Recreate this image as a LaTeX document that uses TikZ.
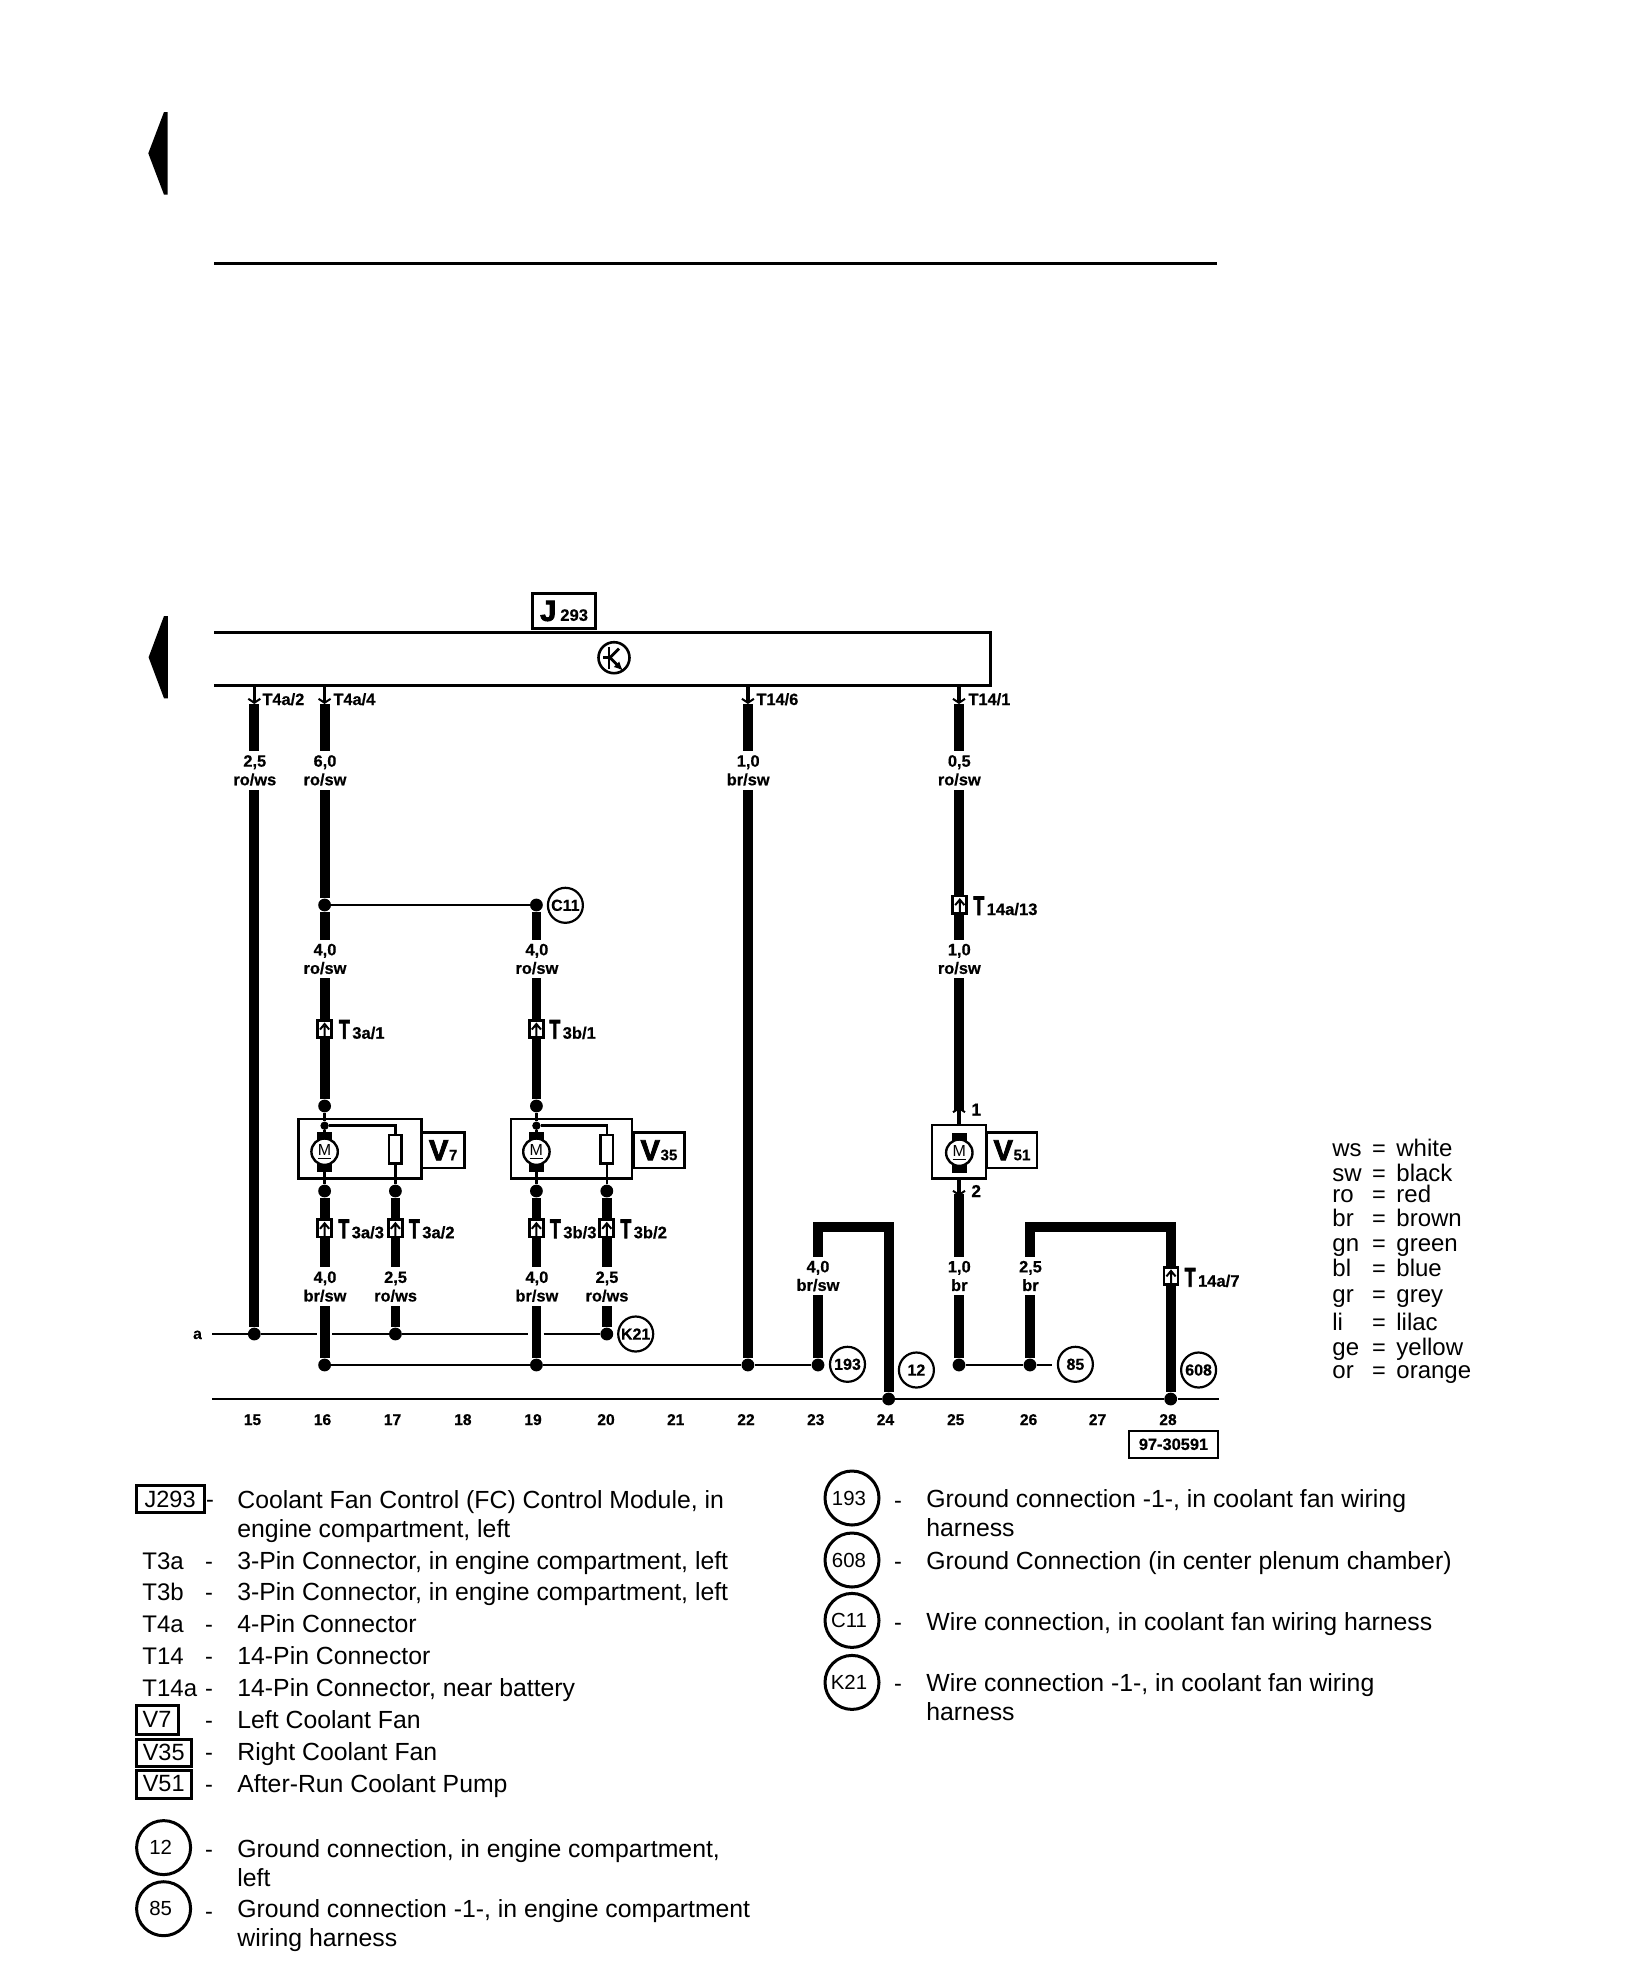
\documentclass[tikz,border=0pt]{standalone}
\usepackage{fontspec}
\usepackage{graphicx}
\setmainfont{Liberation Sans}[BoldFeatures={FakeBold=0.5}]
\newfontfamily\fatfont{Liberation Sans}[UprightFont=* Bold,FakeBold=3]
\usetikzlibrary{arrows.meta}
\newcommand{\bigT}[1]{{\fontsize{13.5}{13.5}\fatfont\mdseries\scalebox{0.66}[1]{T}}\kern1.2pt #1}
\newcommand{\bigV}[1]{{\fontsize{14.5}{14.5}\fatfont\mdseries V}{\fontsize{7.6}{7.6}\selectfont\kern0.3pt #1}}
\tikzset{
  wire/.style={line width=4.9pt},
  thinwire/.style={line width=1.3pt},
  pin/.style={line width=1.7pt,-{Straight Barb[length=2pt,width=6pt,line width=1pt]}},
  dot/.style={circle,fill,inner sep=0pt,minimum size=6.4pt},
  smalldot/.style={circle,fill,inner sep=0pt,minimum size=4.2pt},
  gauge/.style={fill=white,inner sep=0pt,minimum height=19.4pt,align=center,font=\bfseries\fontsize{8.2}{9.3}\selectfont},
  pinname/.style={anchor=base west,inner sep=0pt,font=\bfseries\fontsize{8.2}{9.3}\selectfont},
  plugname/.style={anchor=base west,inner sep=0pt,font=\bfseries\fontsize{8.3}{9.3}\selectfont},
  frame/.style={line width=1.3pt},
  compbox/.style={draw,line width=1.2pt,inner sep=0pt},
  namebox/.style={draw,fill=white,line width=1.3pt,inner sep=0pt,font=\bfseries},
  fuse/.style={draw,fill=white,line width=1.2pt,inner sep=0pt,minimum width=6.2pt,minimum height=14.2pt},
  ref/.style={circle,draw,fill=white,line width=1.1pt,inner sep=0pt,minimum size=17.5pt,font=\bfseries\fontsize{8}{9}\selectfont},
  colnum/.style={anchor=base,inner sep=0pt,font=\bfseries\fontsize{7.8}{9}\selectfont},
  legtext/.style={anchor=base west,inner sep=0pt,align=left,font=\fontsize{12}{14.4}\selectfont},
  legdesc/.style={anchor=base west,inner sep=0pt,align=left,font=\fontsize{12.4}{14.4}\selectfont},
  legdash/.style={anchor=base,inner sep=0pt,font=\fontsize{11.75}{14.4}\selectfont},
  legbox/.style={draw,line width=1.5pt,inner sep=0pt,font=\fontsize{11.75}{14.4}\selectfont},
  legcirc/.style={circle,draw,line width=1.5pt,inner sep=0pt,minimum size=27pt,font=\fontsize{10.2}{12}\selectfont,execute at end node=\hspace{3pt}},
  plug/.pic={
    \draw[line width=1.4pt,fill=white] (-7,-8.6) rectangle (7,8.6);
    \draw[line width=1pt] (-4.6,0.5) -- (0,-5) -- (4.6,0.5) (0,-3) -- (0,8.6);
  },
  motor/.pic={
    \fill (-7.3,-20) rectangle (7.3,-11);
    \fill (-7.3,11) rectangle (7.3,20.5);
    \node[circle,draw,fill=white,line width=1.2pt,inner sep=0pt,minimum size=13.2pt,font=\fontsize{8}{9}\selectfont] (-c) at (0,0) {\underline{M}};
  }
}
\begin{document}
\begin{tikzpicture}[x=0.5pt,y=-0.5pt]
\useasboundingbox (0,0) rectangle (1632,1986);
%pointers and rule:
\fill (167.7,112) -- (164,112) -- (148.3,153.3) -- (164,194.7) -- (167.7,194.7) -- cycle;
\fill (167.9,616) -- (164,616) -- (148.6,657.3) -- (164,698.3) -- (167.9,698.3) -- cycle;
\coordinate (rulea) at (214,263.3);
\coordinate (ruleb) at (1217,263.3);
\draw[line width=1.5pt] (rulea) -- (ruleb);
%control module:
\coordinate (moda) at (214,632.3);
\coordinate (modb) at (990.4,685.3);
\coordinate (modc) at (214,685.3);
\draw[frame] (moda) -| (modb) -- (modc);
\node[namebox,minimum width=31.6pt,minimum height=17.7pt] (J293) at (564.1,611) {{\fontsize{14.5}{14.5}\fatfont\mdseries J}\kern2pt{\fontsize{8.3}{9}\selectfont 293}};
\node[circle,draw,line width=1.3pt,inner sep=0pt,minimum size=15.5pt] (tsym) at (614,657.7) {};
\begin{scope}[shift={(tsym.center)},line width=1.4pt]
\draw (-11,0) -- (-5,0) (-5,-11) -- (-5,11);
\draw (-5,1) -- (5,-9);
\draw[-{Latex[length=4.5pt,width=4pt]}] (-5,-1) -- (9,13);
\end{scope}
%terminals on the module:
\coordinate (m15) at (254.3,685);
\coordinate (m16) at (324.6,685);
\coordinate (m22) at (747.9,685);
\coordinate (m25) at (959,685);
\coordinate (p15) at (254.3,704);
\coordinate (p16) at (324.6,704);
\coordinate (p22) at (747.9,704);
\coordinate (p25) at (959,704);
\node[pinname] (nT4a2) at (262,705) {T4a/2};
\node[pinname] (nT4a4) at (333,705) {T4a/4};
\node[pinname] (nT146) at (756,705) {T14/6};
\node[pinname] (nT141) at (968,705) {T14/1};
%dots:
\node[dot] (d15) at (254.3,1334) {};
\node[dot] (j16) at (324.6,905) {};
\node[dot] (j19) at (536.4,905) {};
\node[dot] (t16) at (324.6,1106) {};
\node[dot] (t19) at (536.4,1106) {};
\node[smalldot] (i16) at (324.6,1125.7) {};
\node[smalldot] (i19) at (536.4,1125.7) {};
\node[dot] (b16) at (324.6,1191) {};
\node[dot] (b17) at (395.4,1191) {};
\node[dot] (b19) at (536.4,1191) {};
\node[dot] (b20) at (606.8,1191) {};
\node[dot] (d16) at (324.6,1365) {};
\node[dot] (d17) at (395.4,1334) {};
\node[dot] (d19) at (536.4,1365) {};
\node[dot] (d20) at (606.8,1334) {};
\node[dot] (d22) at (747.9,1365) {};
\node[dot] (d23) at (818,1365) {};
\node[dot] (d24) at (888.6,1399) {};
\node[dot] (d25) at (959,1365) {};
\node[dot] (d26) at (1030,1365) {};
\node[dot] (d28) at (1170.7,1399) {};
%boxes of the fans and the pump:
\node[compbox,minimum width=61.4pt,minimum height=29.8pt] (boxV7) at (360,1148.8) {};
\node[compbox,minimum width=60.5pt,minimum height=29.8pt] (boxV35) at (571.5,1148.8) {};
\node[compbox,minimum width=27.1pt,minimum height=26.8pt] (boxV51) at (958.9,1151.8) {};
\node[namebox,minimum width=21.1pt,minimum height=17.7pt] (nV7) at (443.2,1150.3) {\bigV{7}};
\node[namebox,minimum width=25.3pt,minimum height=17.7pt] (nV35) at (659,1150.3) {\bigV{35}};
\node[namebox,minimum width=25pt,minimum height=17.7pt] (nV51) at (1012,1150.3) {\bigV{51}};
%thick wires:
\draw[wire] (p15) -- (d15);
\draw[wire] (p16) -- (j16) -- (t16);
\draw[wire] (j19) -- (t19);
\draw[wire] (b16) -- (d16);
\draw[wire] (b17) -- (d17);
\draw[wire] (b19) -- (d19);
\draw[wire] (b20) -- (d20);
\draw[wire] (p22) -- (d22);
\coordinate (w25a) at (959,1110);
\coordinate (w25b) at (959,1194);
\draw[wire] (p25) -- (w25a);
\draw[wire] (w25b) -- (d25);
\coordinate (k23) at (888.6,1226.7);
\coordinate (k26) at (1170.7,1226.7);
\draw[wire] (d23) |- (k23) -- (d24);
\draw[wire] (d26) |- (k26) -- (d28);
%pins:
\draw[pin] (m15) -- (p15);
\draw[pin] (m16) -- (p16);
\draw[pin] (m22) -- (p22);
\draw[pin] (m25) -- (p25);
\coordinate (v51a) at (959,1125);
\coordinate (v51b) at (959,1178);
\coordinate (v51c) at (959,1107);
\coordinate (v51d) at (959,1196);
\draw[pin] (v51a) -- (v51c);
\draw[pin] (v51b) -- (v51d);
\node[plugname,font=\bfseries\fontsize{8.6}{9}\selectfont] (n1) at (971,1115.5) {1};
\node[plugname,font=\bfseries\fontsize{8.6}{9}\selectfont] (n2) at (971,1197) {2};
%thin wires:
\draw[thinwire] (j16) -- (j19);
\coordinate (aa) at (212,1334);
\coordinate (ab) at (317,1334);
\coordinate (ac) at (332,1334);
\coordinate (ad) at (527.5,1334);
\coordinate (ae) at (543.5,1334);
\draw[thinwire] (aa) -- (d15) -- (ab) (ac) -- (d17) -- (ad) (ae) -- (d20);
\node[anchor=base,inner sep=0pt,font=\bfseries\fontsize{7.8}{9}\selectfont] (na) at (197.5,1339) {a};
\coordinate (ba) at (1052,1365);
\draw[thinwire] (d16) -- (d19) -- (d22) -- (d23);
\draw[thinwire] (d25) -- (d26) -- (ba);
\coordinate (ga) at (212,1399);
\coordinate (gb) at (1219,1399);
\draw[line width=1.2pt] (ga) -- (d24) -- (d28) -- (gb);
%fan V7:
\node[fuse] (f17) at (395.4,1149.2) {};
\node[fuse] (f20) at (606.8,1149.2) {};
\draw[thinwire] (t16) -- (i16);
\draw[thinwire] (i16) -| (f17);
\draw[thinwire] (f17) -- (b17);
\draw[thinwire] (i16) -- (b16);
\pic (M16) at (324.6,1151.7) {motor};
%fan V35:
\draw[thinwire] (t19) -- (i19);
\draw[thinwire] (i19) -| (f20);
\draw[thinwire] (f20) -- (b20);
\draw[thinwire] (i19) -- (b19);
\pic (M19) at (536.4,1151.7) {motor};
%pump V51:
\pic (M25) at (959.3,1152.7) {motor};
%wire sizes:
\node[gauge] (g15) at (254.8,770.4) {2,5\\ro/ws};
\node[gauge] (g16a) at (325,770.4) {6,0\\ro/sw};
\node[gauge] (g22) at (748.2,770.4) {1,0\\br/sw};
\node[gauge] (g25a) at (959.3,770.4) {0,5\\ro/sw};
\node[gauge] (g16b) at (325,959) {4,0\\ro/sw};
\node[gauge] (g19b) at (536.9,959) {4,0\\ro/sw};
\node[gauge] (g25b) at (959.3,959) {1,0\\ro/sw};
\node[gauge] (g16c) at (325,1286.6) {4,0\\br/sw};
\node[gauge] (g17) at (395.6,1286.6) {2,5\\ro/ws};
\node[gauge] (g19c) at (536.9,1286.6) {4,0\\br/sw};
\node[gauge] (g20) at (607,1286.6) {2,5\\ro/ws};
\node[gauge] (g23) at (818,1276) {4,0\\br/sw};
\node[gauge] (g25c) at (959.3,1276) {1,0\\br};
\node[gauge] (g26) at (1030.5,1276) {2,5\\br};
%plugs:
\pic (T3a1) at (324.6,1029) {plug};
\pic (T3b1) at (536.4,1029) {plug};
\pic (T14a13) at (959.8,904.6) {plug};
\pic (T3a3) at (324.6,1228.3) {plug};
\pic (T3a2) at (395.4,1228.3) {plug};
\pic (T3b3) at (536.4,1228.3) {plug};
\pic (T3b2) at (606.8,1228.3) {plug};
\pic (T14a7) at (1171,1275.9) {plug};
\node[plugname] (nT3a1) at (338.6,1038.7) {\bigT{3a/1}};
\node[plugname] (nT3b1) at (549,1038.7) {\bigT{3b/1}};
\node[plugname] (nT14a13) at (973,915) {\bigT{14a/13}};
\node[plugname] (nT3a3) at (338,1238.2) {\bigT{3a/3}};
\node[plugname] (nT3a2) at (408.6,1238.2) {\bigT{3a/2}};
\node[plugname] (nT3b3) at (549.6,1238.2) {\bigT{3b/3}};
\node[plugname] (nT3b2) at (620,1238.2) {\bigT{3b/2}};
\node[plugname] (nT14a7) at (1184.3,1286.7) {\bigT{14a/7}};
%reference circles:
\node[ref] (C11) at (565.4,905.3) {C11};
\node[ref] (K21) at (635.7,1334) {K21};
\node[ref] (r193) at (847.5,1364.3) {193};
\node[ref] (r12) at (916.4,1370) {12};
\node[ref] (r85) at (1075.4,1364.3) {85};
\node[ref] (r608) at (1198.6,1370) {608};
%column numbers:
\node[colnum] (n15) at (252.5,1425) {15};
\node[colnum] (n16) at (322.5,1425) {16};
\node[colnum] (n17) at (392.5,1425) {17};
\node[colnum] (n18) at (462.9,1425) {18};
\node[colnum] (n19) at (533,1425) {19};
\node[colnum] (n20) at (606,1425) {20};
\node[colnum] (n21) at (675.7,1425) {21};
\node[colnum] (n22) at (746,1425) {22};
\node[colnum] (n23) at (815.7,1425) {23};
\node[colnum] (n24) at (885.4,1425) {24};
\node[colnum] (n25) at (955.7,1425) {25};
\node[colnum] (n26) at (1028.6,1425) {26};
\node[colnum] (n27) at (1097.5,1425) {27};
\node[colnum] (n28) at (1168,1425) {28};
\node[namebox,line width=1.2pt,minimum width=44.5pt,minimum height=13.6pt,font=\bfseries\fontsize{8.2}{9}\selectfont] (docnum) at (1173.5,1444.3) {97-30591};
%colour key:
\node[legtext] (kws) at (1332,1156.3) {ws}; \node[legdash] (ews) at (1379,1156.3) {=}; \node[legtext] (vws) at (1396,1156.3) {white};
\node[legtext] (ksw) at (1332,1181.6) {sw}; \node[legdash] (esw) at (1379,1181.6) {=}; \node[legtext] (vsw) at (1396,1181.6) {black};
\node[legtext] (kro) at (1332,1202.9) {ro}; \node[legdash] (ero) at (1379,1202.9) {=}; \node[legtext] (vro) at (1396,1202.9) {red};
\node[legtext] (kbr) at (1332,1226.5) {br}; \node[legdash] (ebr) at (1379,1226.5) {=}; \node[legtext] (vbr) at (1396,1226.5) {brown};
\node[legtext] (kgn) at (1332,1251) {gn}; \node[legdash] (egn) at (1379,1251) {=}; \node[legtext] (vgn) at (1396,1251) {green};
\node[legtext] (kbl) at (1332,1276.7) {bl}; \node[legdash] (ebl) at (1379,1276.7) {=}; \node[legtext] (vbl) at (1396,1276.7) {blue};
\node[legtext] (kgr) at (1332,1302.9) {gr}; \node[legdash] (egr) at (1379,1302.9) {=}; \node[legtext] (vgr) at (1396,1302.9) {grey};
\node[legtext] (kli) at (1332,1330.6) {li}; \node[legdash] (eli) at (1379,1330.6) {=}; \node[legtext] (vli) at (1396,1330.6) {lilac};
\node[legtext] (kge) at (1332,1355) {ge}; \node[legdash] (ege) at (1379,1355) {=}; \node[legtext] (vge) at (1396,1355) {yellow};
\node[legtext] (kor) at (1332,1378.8) {or}; \node[legdash] (eor) at (1379,1378.8) {=}; \node[legtext] (vor) at (1396,1378.8) {orange};
%left list:
\node[legbox,minimum width=34pt,minimum height=13.4pt] (lJ293) at (170.1,1499.2) {J293};
\node[legdash] (sJ293) at (210,1507.6) {-};
\node[legdesc] (tJ293) at (237,1537) {Coolant Fan Control (FC) Control Module, in\\engine compartment, left};
\node[legtext] (lT3a) at (142,1569) {T3a}; \node[legdash] (sT3a) at (209,1569) {-};
\node[legdesc] (tT3a) at (237,1569) {3-Pin Connector, in engine compartment, left};
\node[legtext] (lT3b) at (142,1600) {T3b}; \node[legdash] (sT3b) at (209,1600) {-};
\node[legdesc] (tT3b) at (237,1600) {3-Pin Connector, in engine compartment, left};
\node[legtext] (lT4a) at (142,1632.8) {T4a}; \node[legdash] (sT4a) at (209,1632.8) {-};
\node[legdesc] (tT4a) at (237,1632.8) {4-Pin Connector};
\node[legtext] (lT14) at (142,1664.7) {T14}; \node[legdash] (sT14) at (209,1664.7) {-};
\node[legdesc] (tT14) at (237,1664.7) {14-Pin Connector};
\node[legtext] (lT14a) at (142,1696.6) {T14a}; \node[legdash] (sT14a) at (209,1696.6) {-};
\node[legdesc] (tT14a) at (237,1696.6) {14-Pin Connector, near battery};
\node[legbox,minimum width=21pt,minimum height=14.5pt] (lV7) at (157,1719.5) {V7}; \node[legdash] (sV7) at (209,1728.5) {-};
\node[legdesc] (tV7) at (237,1728.5) {Left Coolant Fan};
\node[legbox,minimum width=27.7pt,minimum height=13.5pt] (lV35) at (163.7,1752.5) {V35}; \node[legdash] (sV35) at (209,1760) {-};
\node[legdesc] (tV35) at (237,1760) {Right Coolant Fan};
\node[legbox,minimum width=27.7pt,minimum height=14pt] (lV51) at (163.7,1784) {V51}; \node[legdash] (sV51) at (209,1792) {-};
\node[legdesc] (tV51) at (237,1792) {After-Run Coolant Pump};
\node[legcirc] (l12) at (163.6,1847.6) {12}; \node[legdash] (s12) at (209,1857.7) {-};
\node[legdesc] (t12) at (237,1886) {Ground connection, in engine compartment,\\left};
\node[legcirc] (l85) at (163.6,1908.7) {85}; \node[legdash] (s85) at (209,1919) {-};
\node[legdesc] (t85) at (237,1946.6) {Ground connection -1-, in engine compartment\\wiring harness};
%right list:
\node[legcirc] (l193) at (852,1498) {193}; \node[legdash] (s193) at (898,1508) {-};
\node[legdesc] (t193) at (926,1536.7) {Ground connection -1-, in coolant fan wiring\\harness};
\node[legcirc] (l608) at (852,1560) {608}; \node[legdash] (s608) at (898,1569.4) {-};
\node[legdesc] (t608) at (926,1569.4) {Ground Connection (in center plenum chamber)};
\node[legcirc] (lC11) at (852,1620.4) {C11}; \node[legdash] (sC11) at (898,1630.6) {-};
\node[legdesc] (tC11) at (926,1630.6) {Wire connection, in coolant fan wiring harness};
\node[legcirc] (lK21) at (852,1682.4) {K21}; \node[legdash] (sK21) at (898,1691.8) {-};
\node[legdesc] (tK21) at (926,1720.4) {Wire connection -1-, in coolant fan wiring\\harness};
\end{tikzpicture}
\end{document}
